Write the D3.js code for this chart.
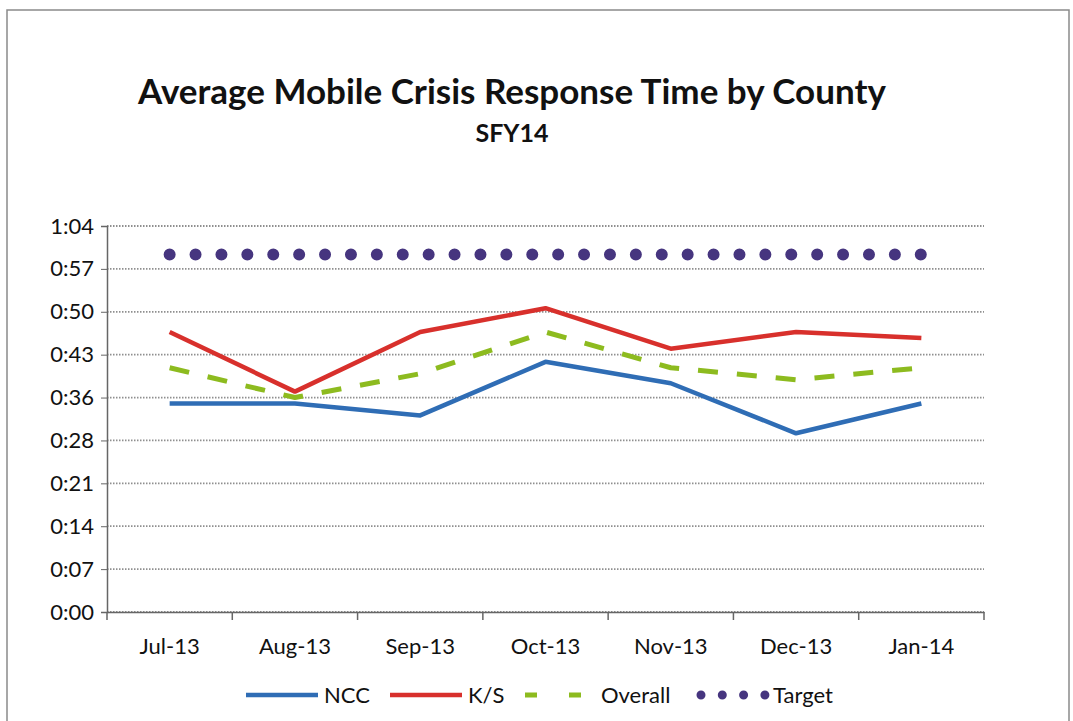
<!DOCTYPE html>
<html>
<head>
<meta charset="utf-8">
<script src="https://cdn.jsdelivr.net/npm/d3@7"></script>
<style>
  body { margin: 0; background: #fff; }
  text { font-family: Lato, "Open Sans", sans-serif; fill: #111; }
</style>
</head>
<body>
<div id="chart"></div>
<script>
//////////////////////// Data ////////////////////////////
// values in minutes
var months = ["Jul-13", "Aug-13", "Sep-13", "Oct-13", "Nov-13", "Dec-13", "Jan-14"];
var ncc     = [35, 35, 33, 42, 38.4, 30, 35];
var ks      = [47, 37, 47, 51, 44.2, 47, 46];
var overall = [41, 36, 40, 47, 41, 39, 41];
var target  = [60, 60, 60, 60, 60, 60, 60];

var yTickValues = [0, 7.2, 14.4, 21.6, 28.8, 36, 43.2, 50.4, 57.6, 64.8];
var yTickLabels = ["0:00", "0:07", "0:14", "0:21", "0:28", "0:36", "0:43", "0:50", "0:57", "1:04"];

var seriesNames = ["NCC", "K/S", "Overall", "Target"];

//////////////////////// Set-Up ////////////////////////////
var W = 1073, H = 721;
var margin = {left: 107, top: 226, right: 89, bottom: 109},
    width = W - margin.left - margin.right,
    height = H - margin.top - margin.bottom;

var svg = d3.select("#chart").append("svg")
    .attr("width", W)
    .attr("height", H);

// outer frame
svg.append("rect")
    .attr("x", 7).attr("y", 10)
    .attr("width", 1062).attr("height", 712)
    .style("fill", "none").style("stroke", "#8a8a8a").style("stroke-width", 1.5);

// titles
svg.append("text")
    .attr("x", 512).attr("y", 104)
    .style("text-anchor", "middle").style("font-weight", 700).style("font-size", "35px")
    .text("Average Mobile Crisis Response Time by County");
svg.append("text")
    .attr("x", 512).attr("y", 142)
    .style("text-anchor", "middle").style("font-weight", 700).style("font-size", "25px")
    .text("SFY14");

var g = svg.append("g")
    .attr("transform", "translate(" + margin.left + "," + margin.top + ")");

//////////////////////// Scales ////////////////////////////
var x = d3.scaleBand().domain(months).range([0, width]).padding(0);
var y = d3.scaleLinear().domain([0, 64.8]).range([height, 0]);

// gridlines
g.selectAll("line.grid")
    .data(yTickValues)
    .enter().append("line")
    .attr("class", "grid")
    .attr("x1", 0).attr("x2", width)
    .attr("y1", function(d) { return y(d); })
    .attr("y2", function(d) { return y(d); })
    .style("stroke", "#8f8f8f")
    .style("stroke-width", 1.8)
    .style("stroke-dasharray", "1.5,1.5");

// y axis
var yAxis = d3.axisLeft(y)
    .tickValues(yTickValues)
    .tickSize(6)
    .tickPadding(7)
    .tickFormat(function(d, i) { return yTickLabels[i]; });
var gy = g.append("g").call(yAxis);
gy.select(".domain").style("stroke", "#666").style("stroke-width", 1.5);
gy.selectAll(".tick line").style("stroke", "#666");
gy.selectAll("text").style("font-size", "22px").style("font-family", "Lato, sans-serif").style("fill", "#111");

// x axis with ticks at category boundaries
var gx = g.append("g")
    .attr("transform", "translate(0," + height + ")")
    .call(d3.axisBottom(x).tickSize(0).tickPadding(26));
gx.select(".domain").style("stroke", "#666").style("stroke-width", 1.5);
gx.selectAll("text").style("font-size", "22px").style("font-family", "Lato, sans-serif").style("fill", "#111");
gx.selectAll("line.bound")
    .data(months.concat(["end"]))
    .enter().append("line")
    .attr("class", "bound")
    .attr("x1", function(d, i) { return i * x.step(); })
    .attr("x2", function(d, i) { return i * x.step(); })
    .attr("y1", 0).attr("y2", 8)
    .style("stroke", "#666").style("stroke-width", 1.5);

//////////////////////// Lines ////////////////////////////
var line = d3.line()
    .x(function(d, i) { return x(months[i]) + x.bandwidth() / 2; })
    .y(function(d) { return y(d); });

var span = x(months[months.length - 1]) - x(months[0]);
var series = [
    {name: "Target", values: target, color: "#46357f", width: 12, dash: "0," + (span / 29 - 0.02), cap: "round"},
    {name: "NCC", values: ncc, color: "#2f6db5", width: 4.5, dash: null, cap: "butt"},
    {name: "Overall", values: overall, color: "#8dbb1f", width: 5, dash: "20,19", cap: "butt"},
    {name: "K/S", values: ks, color: "#d8302c", width: 4.5, dash: null, cap: "butt"}
];

g.selectAll("path.series")
    .data(series)
    .enter().append("path")
    .attr("class", "series")
    .attr("d", function(d) { return line(d.values); })
    .style("fill", "none")
    .style("stroke", function(d) { return d.color; })
    .style("stroke-width", function(d) { return d.width; })
    .style("stroke-linecap", function(d) { return d.cap; })
    .style("stroke-linejoin", "round")
    .style("stroke-dasharray", function(d) { return d.dash; });

//////////////////////// Legend ////////////////////////////
var legendItems = [
    {name: seriesNames[0], x: 246, len: 72, gap: 6, color: "#2f6db5", width: 4.5, dash: null, cap: "butt"},
    {name: seriesNames[1], x: 390, len: 72, gap: 6, color: "#d8302c", width: 4.5, dash: null, cap: "butt"},
    {name: seriesNames[2], x: 525, len: 56, gap: 20, color: "#8dbb1f", width: 5, dash: "12,32", cap: "butt"},
    {name: seriesNames[3], x: 701, len: 64, gap: 8, color: "#46357f", width: 9, dash: "0,21.3", cap: "round"}
];
var lg = svg.append("g").attr("transform", "translate(0,695)");
var li = lg.selectAll("g.item").data(legendItems).enter().append("g").attr("class", "item");
li.append("line")
    .attr("x1", function(d) { return d.x; })
    .attr("x2", function(d) { return d.x + d.len; })
    .attr("y1", 0).attr("y2", 0)
    .style("stroke", function(d) { return d.color; })
    .style("stroke-width", function(d) { return d.width; })
    .style("stroke-linecap", function(d) { return d.cap; })
    .style("stroke-dasharray", function(d) { return d.dash; });
li.append("text")
    .attr("x", function(d) { return d.x + d.len + d.gap; })
    .attr("y", 8)
    .style("font-size", "22px")
    .text(function(d) { return d.name; });
</script>
</body>
</html>
